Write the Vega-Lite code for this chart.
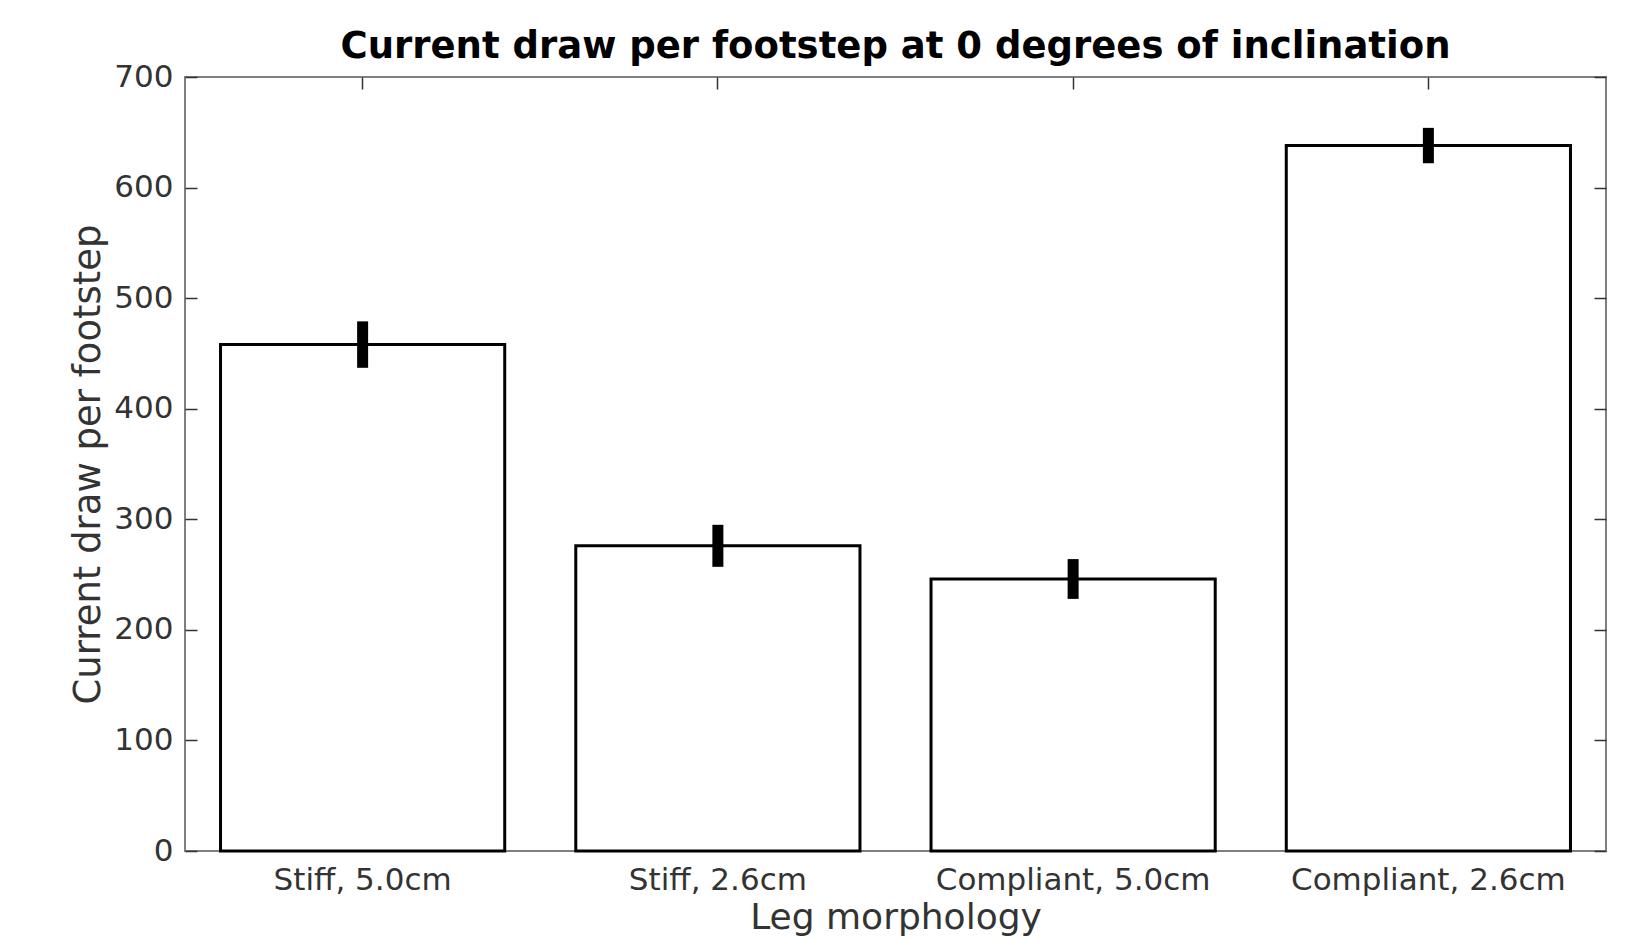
{
  "$schema": "https://vega.github.io/schema/vega-lite/v6.json",
  "width": 1421,
  "height": 774,
  "autosize": "none",
  "padding": {"left": 185, "top": 77, "right": 27, "bottom": 91},
  "background": "white",
  "title": {
    "text": "Current draw per footstep at 0 degrees of inclination",
    "font": "DejaVu Sans",
    "fontSize": 37,
    "fontWeight": "bold",
    "color": "#000000",
    "offset": -5
  },
  "config": {
    "view": {"stroke": "#7f7f7f", "strokeWidth": 2},
    "axis": {
      "labelFont": "DejaVu Sans",
      "titleFont": "DejaVu Sans",
      "labelFontSize": 31,
      "titleFontSize": 36,
      "titleFontWeight": "normal",
      "labelColor": "#333333",
      "titleColor": "#333333",
      "labelLimit": 0,
      "labelOverlap": false,
      "domain": false,
      "grid": false,
      "tickColor": "#333333",
      "tickWidth": 1.5
    }
  },
  "data": {
    "values": [
      {"leg": "Stiff, 5.0cm", "current": 458, "lo": 437, "hi": 479},
      {"leg": "Stiff, 2.6cm", "current": 276, "lo": 257, "hi": 295},
      {"leg": "Compliant, 5.0cm", "current": 246, "lo": 228, "hi": 264},
      {"leg": "Compliant, 2.6cm", "current": 638, "lo": 622, "hi": 654}
    ]
  },
  "encoding": {
    "x": {
      "field": "leg",
      "type": "nominal",
      "sort": null,
      "scale": {"paddingInner": 0.2, "paddingOuter": 0.1},
      "axis": {
        "title": "Leg morphology",
        "labelAngle": 0,
        "ticks": false,
        "labelPadding": 14,
        "titlePadding": 5
      }
    }
  },
  "layer": [
    {
      "mark": {"type": "bar", "fill": "white", "stroke": "black", "strokeWidth": 3},
      "encoding": {
        "y": {
          "field": "current",
          "type": "quantitative",
          "scale": {"domain": [0, 700], "nice": false},
          "axis": {
            "title": "Current draw per footstep",
            "titleFontSize": 37,
            "values": [0, 100, 200, 300, 400, 500, 600, 700],
            "tickSize": -12,
            "labelPadding": 24,
            "titlePadding": 6
          }
        }
      }
    },
    {
      "mark": {"type": "rule", "color": "black", "strokeWidth": 11},
      "encoding": {
        "y": {"field": "lo", "type": "quantitative", "axis": {"orient": "right", "labels": false, "title": null, "tickSize": -12, "values": [0, 100, 200, 300, 400, 500, 600, 700]}},
        "y2": {"field": "hi"},
        "x": {
          "field": "leg",
          "type": "nominal",
          "sort": null,
          "axis": {"orient": "top", "labels": false, "title": null, "ticks": true, "tickSize": -12, "domain": false}
        }
      }
    }
  ],
  "resolve": {"axis": {"x": "independent", "y": "independent"}}
}
